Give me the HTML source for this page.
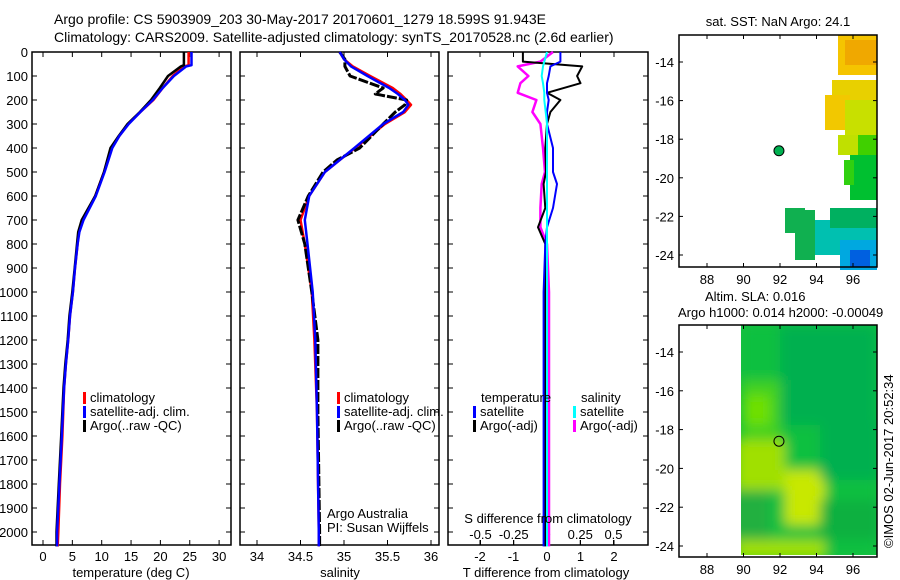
<!DOCTYPE html>
<html><head><meta charset="utf-8"><style>
body{margin:0;background:#fff;}
svg{display:block;font-family:"Liberation Sans",sans-serif;}
text{font-size:13px;fill:#000;}
</style></head><body>
<svg id="fig" width="900" height="580" viewBox="0 0 900 580" xmlns="http://www.w3.org/2000/svg">
<defs><filter id="bl" x="-5%" y="-5%" width="110%" height="110%"><feGaussianBlur stdDeviation="6"/></filter>
<clipPath id="slaclip"><rect x="741" y="325" width="136" height="230"/></clipPath></defs>
<text x="54" y="24" style="font-size:14px">Argo profile: CS 5903909_203 30-May-2017 20170601_1279 18.599S 91.943E</text>
<text x="54" y="42" style="font-size:14px">Climatology: CARS2009. Satellite-adjusted climatology: synTS_20170528.nc (2.6d earlier)</text>
<g id="p1"></g>
<g id="p2"></g>
<g id="p3"></g>
<g id="m1"></g>
<g id="m2"></g>
<text transform="translate(893,548) rotate(-90)">©IMOS 02-Jun-2017 20:52:34</text>
</svg>
<script>
const depthTicks=[0,100,200,300,400,500,600,700,800,900,1000,1100,1200,1300,1400,1500,1600,1700,1800,1900,2000];
const tDepth=[0,55,60,100,150,200,250,300,350,400,500,600,700,750,800,900,1000,1100,1200,1300,1400,1600,1800,2000,2060];
const tClim=[24.8,24.8,24.0,22.1,20.4,18.8,16.6,14.5,13.0,11.7,10.4,8.9,6.8,6.1,5.9,5.45,5.1,4.6,4.3,3.9,3.6,3.3,2.9,2.6,2.5];
const tSat=[25.3,25.3,24.4,22.3,20.4,18.7,16.6,14.6,13.0,11.8,10.5,9.0,6.9,6.2,5.9,5.45,5.1,4.6,4.3,3.9,3.6,3.2,2.8,2.4,2.4];
const tArgo=[24.0,24.0,23.5,21.3,19.9,18.4,16.5,14.4,12.9,11.5,10.4,8.9,6.6,6.0,5.8,5.4,5.0,4.5,4.2,3.8,3.5,3.1,2.7,2.3,2.3];
const sDepth=[0,30,60,100,150,175,200,220,250,300,400,450,500,600,700,800,1000,1200,1500,2000,2060];
const sClim=[34.95,35.0,35.1,35.3,35.56,35.65,35.72,35.77,35.7,35.47,35.13,34.95,34.78,34.6,34.5,34.55,34.63,34.66,34.69,34.71,34.71];
const sSat=[34.95,35.0,35.08,35.27,35.52,35.62,35.7,35.74,35.68,35.45,35.12,34.95,34.78,34.6,34.55,34.58,34.64,34.67,34.69,34.71,34.71];
const sArgo=[34.95,35.01,35.01,35.07,35.45,35.36,35.72,35.7,35.59,35.45,35.18,34.92,34.76,34.59,34.47,34.55,34.63,34.7,34.7,34.72,34.72];
const dDepth=[0,40,60,100,130,170,200,250,300,400,500,550,650,730,800,1000,1500,2060];
const dTsat=[0.4,0.4,0.1,0.05,0.0,0.0,0.05,0.0,0.0,0.18,0.18,0.3,0.18,0.0,-0.05,-0.1,-0.1,-0.1];
const dTargo=[-0.72,-0.72,1.05,0.9,1.0,0.0,0.4,0.1,0.0,-0.05,-0.03,-0.1,-0.05,-0.27,-0.05,-0.05,-0.05,-0.05];
const dSsat=[0.0,-0.02,-0.03,-0.04,-0.03,-0.02,-0.02,-0.01,0.0,0.0,0.0,0.0,0.0,0.0,0.0,0.0,0.0,0.0];
const dSargo=[0.045,-0.05,-0.22,-0.14,-0.2,-0.22,-0.08,-0.11,-0.05,-0.03,-0.015,-0.04,-0.05,-0.05,0.0,0.015,0.015,0.015];
const tTicks=[0,5,10,15,20,25,30];
const sTicks=[34,34.5,35,35.5,36];
const dtTicks=[-2,-1,0,1,2];
const dsTicks=[-0.5,-0.25,0,0.25,0.5];
const lonTicks=[88,90,92,94,96];
const latTicks=[-14,-16,-18,-20,-22,-24];

const NS='http://www.w3.org/2000/svg';
function mk(parent,tag,attrs){const e=document.createElementNS(NS,tag);for(const k in attrs)e.setAttribute(k,attrs[k]);parent.appendChild(e);return e;}
const yD=d=>52+d*0.24;
function frame(g,x0,x1,y0,y1){const r=mk(g,'rect',{x:x0,y:y0,width:x1-x0,height:y1-y0,fill:'none',stroke:'#000','stroke-width':1.5});

}
function depthAxis(g,x0,x1,labels){depthTicks.forEach(d=>{const y=yD(d);
mk(g,'line',{x1:x0,x2:x0+5,y1:y,y2:y,stroke:'#000'});mk(g,'line',{x1:x1-5,x2:x1,y1:y,y2:y,stroke:'#000'});
if(labels){const t=mk(g,'text',{x:28,y:y+5,'text-anchor':'end'});t.textContent=d;

}});}
function xAxis(g,ticks,xf,fmt){ticks.forEach(v=>{const x=xf(v);mk(g,'line',{x1:x,x2:x,y1:540,y2:545,stroke:'#000'});mk(g,'line',{x1:x,x2:x,y1:52,y2:57,stroke:'#000'});
const t=mk(g,'text',{x:x,y:561,'text-anchor':'middle'});t.textContent=fmt?fmt(v):v;

});}
function line(g,xs,ds,xf,color,w,name,dash){const p=xs.map((v,i)=>(i?'L':'M')+xf(v).toFixed(1)+','+yD(ds[i]).toFixed(1)).join('');
const e=mk(g,'path',{d:p,fill:'none',stroke:color,'stroke-width':w,'stroke-linejoin':'round'});if(dash)e.setAttribute('stroke-dasharray',dash);

}
function txt(g,x,y,s,name,anchor){const t=mk(g,'text',{x:x,y:y});if(anchor)t.setAttribute('text-anchor',anchor);t.textContent=s;

return t;}
function leg(g,x,y,color,s,name){mk(g,'rect',{x:x,y:y-10,width:3,height:12,fill:color});txt(g,x+7,y,s,name);}

const p1=document.getElementById('p1');
const xT=v=>43+v*5.87;
frame(p1,32,231,52,545);depthAxis(p1,32,231,true);xAxis(p1,tTicks,xT);
line(p1,tClim,tDepth,xT,'#f00',2.5,'temp-climatology-line');
line(p1,tArgo,tDepth,xT,'#000',2.5,'temp-argo-line');
line(p1,tSat,tDepth,xT,'#00f',2.5,'temp-satellite-line');
txt(p1,131,577,'temperature (deg C)','x-axis-title','middle');
leg(p1,83,402,'#f00','climatology','legend-climatology');leg(p1,83,416,'#00f','satellite-adj. clim.','legend-satellite');leg(p1,83,430,'#000','Argo(..raw -QC)','legend-argo');

const p2=document.getElementById('p2');
const xS=v=>257+(v-34)*87;
frame(p2,240,439,52,545);depthAxis(p2,240,439,false);xAxis(p2,sTicks,xS);
line(p2,sClim,sDepth,xS,'#f00',2.5,'sal-climatology-line');
line(p2,sArgo,sDepth,xS,'#000',3,'sal-argo-line','10,2');
line(p2,sSat,sDepth,xS,'#00f',2.5,'sal-satellite-line');
txt(p2,340,577,'salinity','x-axis-title','middle');
leg(p2,337,402,'#f00','climatology','legend-climatology');leg(p2,337,416,'#00f','satellite-adj. clim.','legend-satellite');leg(p2,337,430,'#000','Argo(..raw -QC)','legend-argo');
txt(p2,327,518,'Argo Australia','institution-label');txt(p2,327,532,'PI: Susan Wijffels','pi-label');

const p3=document.getElementById('p3');
const xDT=v=>547+v*33.5, xDS=v=>547+v*133;
frame(p3,448,648,52,545);depthAxis(p3,448,648,false);xAxis(p3,dtTicks,xDT);
dsTicks.forEach(v=>{const x=xDS(v);mk(p3,'line',{x1:x,x2:x,y1:540,y2:545,stroke:'#000'});txt(p3,x,539,String(v),'s-diff-tick-label','middle');});
line(p3,dSargo,dDepth,xDS,'#f0f',2.5,'sdiff-argo-line');
line(p3,dTargo,dDepth,xDT,'#000',2,'tdiff-argo-line');
line(p3,dTsat,dDepth,xDT,'#00f',2,'tdiff-satellite-line');
line(p3,dSsat,dDepth,xDS,'#0ff',2,'sdiff-satellite-line');
txt(p3,548,523,'S difference from climatology','s-diff-axis-title','middle');
txt(p3,546,577,'T difference from climatology','x-axis-title','middle');
txt(p3,481,402,'temperature','legend-temperature-heading');txt(p3,581,402,'salinity','legend-salinity-heading');
leg(p3,473,416,'#00f','satellite','legend-t-satellite');leg(p3,473,430,'#000','Argo(-adj)','legend-t-argo');
leg(p3,573,416,'#0ff','satellite','legend-s-satellite');leg(p3,573,430,'#f0f','Argo(-adj)','legend-s-argo');

const lonX=l=>707+(l-88)*18.25;
function mapAxes(g,y0,y1,latY){lonTicks.forEach(l=>{const x=lonX(l);mk(g,'line',{x1:x,x2:x,y1:y1-4,y2:y1,stroke:'#000'});mk(g,'line',{x1:x,x2:x,y1:y0,y2:y0+4,stroke:'#000'});txt(g,x,y1+17,l,'lon-tick-label','middle');});
latTicks.forEach(a=>{const y=latY(a);mk(g,'line',{x1:679,x2:683,y1:y,y2:y,stroke:'#000'});mk(g,'line',{x1:873,x2:877,y1:y,y2:y,stroke:'#000'});txt(g,674,y+5,'-'+Math.abs(a),'lat-tick-label','end');});}
const m1=document.getElementById('m1');
const lat1=a=>62+(-14-a)*19.3;
txt(m1,778,26,'sat. SST: NaN Argo: 24.1','sst-map-title','middle');
const sstCells=[[838,35,39,40,'#f5c400'],[845,40,32,25,'#f0a800'],[832,80,45,30,'#e8d000'],[825,95,25,35,'#f2c800'],[845,100,32,35,'#c8e000'],[838,135,20,20,'#c0e000'],[858,135,19,25,'#40d000'],[850,155,27,45,'#00c030'],[844,160,10,25,'#30d010'],[785,208,20,25,'#10b050'],[795,210,20,50,'#10b050'],[815,220,62,35,'#00c0b0'],[830,208,47,20,'#00b060'],[840,240,37,30,'#00a8e0'],[850,250,20,17,'#0060e0']];
sstCells.forEach(c=>{const r=mk(m1,'rect',{x:c[0],y:c[1],width:c[2],height:c[3],fill:c[4]});

});
mk(m1,'rect',{x:679,y:35,width:198,height:232,fill:'none',stroke:'#000','stroke-width':1.5});
mapAxes(m1,35,267,lat1);
const pt1=mk(m1,'circle',{cx:lonX(91.943),cy:lat1(-18.599),r:5,fill:'#00b050',stroke:'#000'});



const m2=document.getElementById('m2');
const lat2=a=>352+(-14-a)*19.4;
txt(m2,705,301,'Altim. SLA: 0.016','sla-map-title');txt(m2,678,317,'Argo h1000: 0.014 h2000: -0.00049','argo-height-label');
const slaG=mk(m2,'g',{'clip-path':'url(#slaclip)'});
mk(slaG,'rect',{x:741,y:325,width:136,height:230,fill:'#10c040'});
const slaInner=mk(slaG,'g',{filter:'url(#bl)'});
const slaCells=[[741,325,136,230,'#10c040'],[780,325,97,100,'#00b050'],[741,380,40,60,'#40d020'],[745,395,25,30,'#70e000'],[735,440,50,50,'#a0e000'],[785,470,40,55,'#c8e800'],[730,490,40,50,'#20b040'],[820,500,60,40,'#10b040'],[735,540,90,20,'#a0e000'],[820,420,60,60,'#00b050']];
slaCells.forEach(c=>{const r=mk(slaInner,'rect',{x:c[0],y:c[1],width:c[2],height:c[3],fill:c[4]});

});
mk(m2,'rect',{x:679,y:325,width:198,height:232,fill:'none',stroke:'#000','stroke-width':1.5});
mapAxes(m2,325,557,lat2);
const pt2=mk(m2,'circle',{cx:lonX(91.943),cy:lat2(-18.599),r:5,fill:'none',stroke:'#000'});


</script>
</body></html>
